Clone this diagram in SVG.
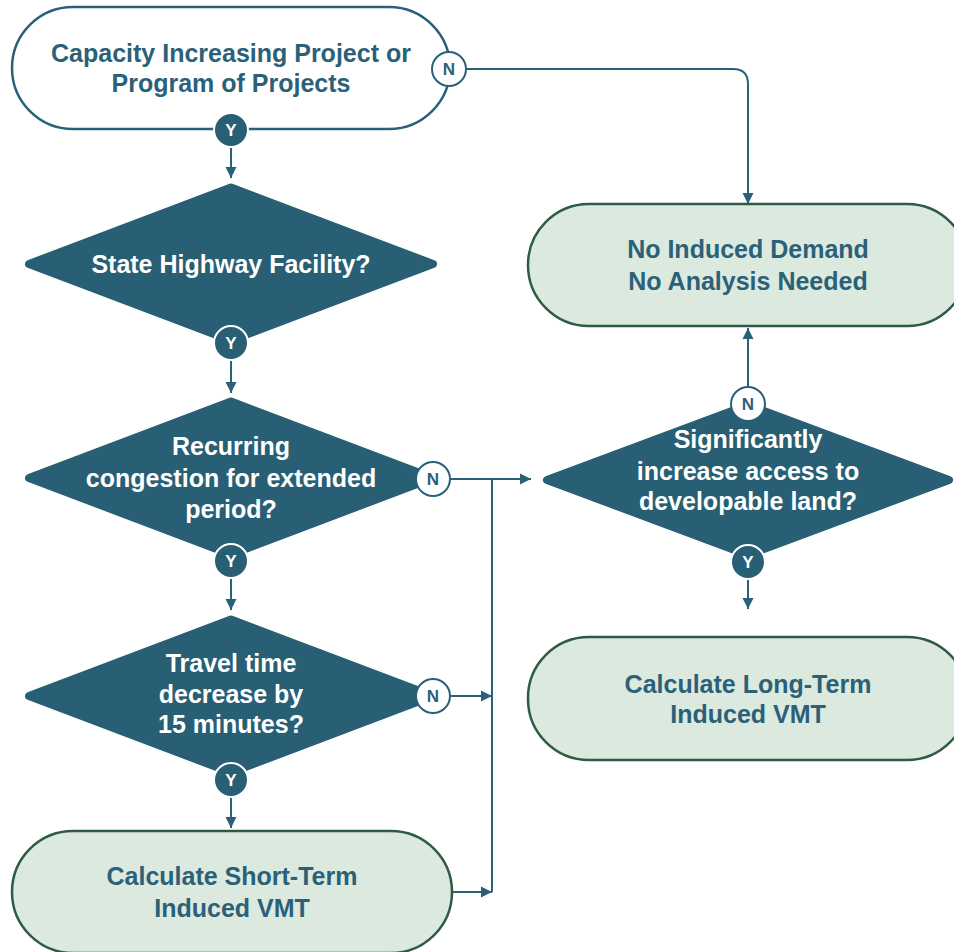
<svg xmlns="http://www.w3.org/2000/svg" width="954" height="952" viewBox="0 0 954 952">
<style>
.t{font-family:"Liberation Sans",Arial,sans-serif;font-weight:bold;font-size:25px;text-anchor:middle}
.tl{fill:#2b6178}
.tw{fill:#ffffff}
.dia{fill:#285f74;stroke:#285f74;stroke-width:8;stroke-linejoin:round}
.start{fill:#ffffff;stroke:#2b6178;stroke-width:2.5}
.end{fill:#dbe9df;stroke:#2e5a46;stroke-width:2.5}
.con{fill:none;stroke:#2b6178;stroke-width:2}
.nc{fill:#ffffff;stroke:#2b6178;stroke-width:2}
.yc{fill:#285f74;stroke:#ffffff;stroke-width:2}
.lb{font-family:"Liberation Sans",Arial,sans-serif;font-weight:bold;font-size:17px;text-anchor:middle}
</style>
<defs>
<marker id="ah" markerUnits="userSpaceOnUse" markerWidth="12" markerHeight="12" viewBox="0 0 12 12" refX="11" refY="6" orient="auto">
<path d="M0,0.5 L11,6 L0,11.5 Z" fill="#2b6178"/>
</marker>
</defs>
<rect width="954" height="952" fill="#ffffff"/>

<g id="connectors">
<path class="con" d="M231,147 V178" marker-end="url(#ah)"/>
<path class="con" d="M231,360 V393" marker-end="url(#ah)"/>
<path class="con" d="M231,578 V610" marker-end="url(#ah)"/>
<path class="con" d="M231,797 V828" marker-end="url(#ah)"/>
<path class="con" d="M466,69 H733 Q748,69 748,84 V204" marker-end="url(#ah)"/>
<path class="con" d="M450,479 H531" marker-end="url(#ah)"/>
<path class="con" d="M492,479 V892"/>
<path class="con" d="M450,696 H492" marker-end="url(#ah)"/>
<path class="con" d="M453,892 H492" marker-end="url(#ah)"/>
<path class="con" d="M748,387 V328" marker-end="url(#ah)"/>
<path class="con" d="M748,579 V609" marker-end="url(#ah)"/>
</g>

<g id="start">
<rect class="start" x="12" y="7" width="438" height="122" rx="61"/>
<text class="t tl" x="231" y="62">Capacity Increasing Project or</text>
<text class="t tl" x="231" y="92">Program of Projects</text>
</g>

<g id="state-highway">
<polygon class="dia" points="231,187.5 433,264 231,340.5 29,264"/>
<text class="t tw" x="231" y="273">State Highway Facility?</text>
</g>

<g id="recurring">
<polygon class="dia" points="231,401.5 433,478 231,554.5 29,478"/>
<text class="t tw" x="231" y="455">Recurring</text>
<text class="t tw" x="231" y="487">congestion for extended</text>
<text class="t tw" x="231" y="518">period?</text>
</g>

<g id="travel-time">
<polygon class="dia" points="231,619.5 433,696 231,772.5 29,696"/>
<text class="t tw" x="231" y="672">Travel time</text>
<text class="t tw" x="231" y="703">decrease by</text>
<text class="t tw" x="231" y="733">15 minutes?</text>
</g>

<g id="short-term">
<rect class="end" x="12" y="831" width="440" height="122" rx="61"/>
<text class="t tl" x="232" y="885">Calculate Short-Term</text>
<text class="t tl" x="232" y="917">Induced VMT</text>
</g>

<g id="no-induced">
<rect class="end" x="528" y="204" width="440" height="122" rx="61"/>
<text class="t tl" x="748" y="258">No Induced Demand</text>
<text class="t tl" x="748" y="290">No Analysis Needed</text>
</g>

<g id="developable">
<polygon class="dia" points="748,405 949,480 748,555 547,480"/>
<text class="t tw" x="748" y="448">Significantly</text>
<text class="t tw" x="748" y="480">increase access to</text>
<text class="t tw" x="748" y="510">developable land?</text>
</g>

<g id="long-term">
<rect class="end" x="528" y="637" width="440" height="123" rx="61"/>
<text class="t tl" x="748" y="693">Calculate Long-Term</text>
<text class="t tl" x="748" y="723">Induced VMT</text>
</g>

<g id="labels">
<circle class="nc" cx="449" cy="69" r="17"/><text class="lb tl" x="449" y="75">N</text>
<circle class="yc" cx="231" cy="130" r="17"/><text class="lb tw" x="231" y="136">Y</text>
<circle class="yc" cx="231" cy="343" r="17"/><text class="lb tw" x="231" y="349">Y</text>
<circle class="nc" cx="433" cy="479" r="17"/><text class="lb tl" x="433" y="485">N</text>
<circle class="yc" cx="231" cy="561" r="17"/><text class="lb tw" x="231" y="567">Y</text>
<circle class="nc" cx="433" cy="696" r="17"/><text class="lb tl" x="433" y="702">N</text>
<circle class="yc" cx="231" cy="780" r="17"/><text class="lb tw" x="231" y="786">Y</text>
<circle class="nc" cx="748" cy="404" r="17"/><text class="lb tl" x="748" y="410">N</text>
<circle class="yc" cx="748" cy="562" r="17"/><text class="lb tw" x="748" y="568">Y</text>
</g>
</svg>
